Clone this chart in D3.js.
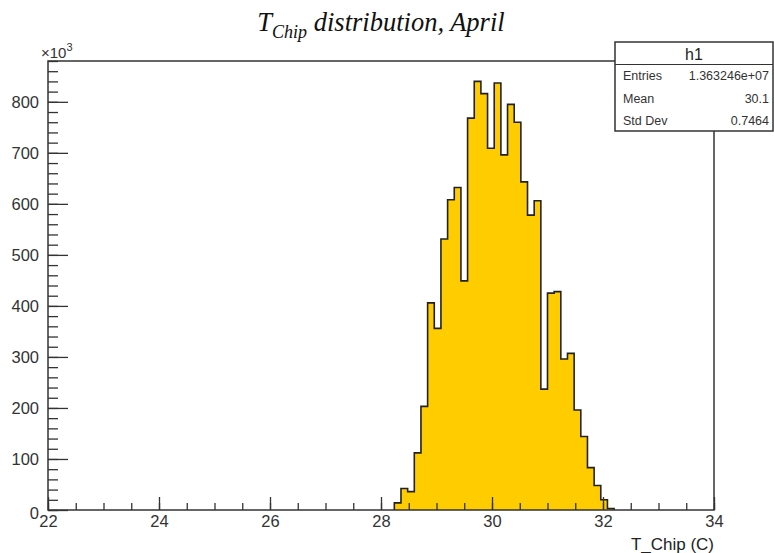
<!DOCTYPE html>
<html>
<head>
<meta charset="utf-8">
<script src="https://cdn.jsdelivr.net/npm/d3@7"></script>
<style>
  html, body { margin: 0; padding: 0; background: #fff; }
  svg { display: block; font-family: "Liberation Sans", Arial, sans-serif; }
</style>
</head>
<body>
<svg id="chart" width="774" height="553"></svg>
<script>
// ---- data ----
const histName = "h1";
const nBins = 100;
const xMin = 22, xMax = 34;
const firstFilledBin = 52;           // index of first non-empty bin
// bin contents in thousands (x10^3), bins 52..84
const counts = [14, 42, 36, 112, 203, 406, 356, 531, 608, 632, 449, 768, 840, 816,
                709, 837, 696, 795, 760, 643, 578, 606, 237, 425, 428, 296, 307,
                196, 144, 83, 48, 20, 3];
const xTickLabels = [22, 24, 26, 28, 30, 32, 34];
const yTickLabels = [0, 100, 200, 300, 400, 500, 600, 700, 800];
const statsLabels = ["Entries", "Mean", "Std Dev"];
const statsValues = ["1.363246e+07", "30.1", "0.7464"];
const yMax = 880;

// ---- layout ----
const svg = d3.select("#chart");
const frame = { left: 48, right: 714, top: 61, bottom: 510 };
const x = d3.scaleLinear().domain([xMin, xMax]).range([frame.left, frame.right]);
const y = d3.scaleLinear().domain([0, yMax]).range([frame.bottom, frame.top]);
const binW = (xMax - xMin) / nBins;
const sans = "'Liberation Sans', Arial, sans-serif";
const serif = "'Liberation Serif', 'Times New Roman', serif";

// histogram outline (step path)
const pts = [];
pts.push([xMin + firstFilledBin * binW, 0]);
counts.forEach((c, i) => {
  const lo = xMin + (firstFilledBin + i) * binW;
  pts.push([lo, c]);
  pts.push([lo + binW, c]);
});
pts.push([xMin + (firstFilledBin + counts.length) * binW, 0]);

const area = d3.area().x(d => x(d[0])).y0(y(0)).y1(d => y(d[1]));
const line = d3.line().x(d => x(d[0])).y(d => y(d[1]));

svg.append("path").attr("d", area(pts)).attr("fill", "#ffcc00").attr("stroke", "none");
svg.append("path").attr("d", line(pts)).attr("fill", "none")
  .attr("stroke", "#222").attr("stroke-width", 1.6).attr("stroke-linejoin", "miter");

// axes (ROOT style: ticks inward)
const yMinor = d3.range(0, yMax + 0.1, 20);
svg.append("g").attr("transform", `translate(${frame.left},0)`)
  .call(d3.axisLeft(y).tickValues(yMinor).tickSize(-10).tickFormat(""))
  .call(g => g.select(".domain").remove())
  .call(g => g.selectAll("line").attr("stroke", "#333").attr("stroke-width", 1.3));
svg.append("g").attr("transform", `translate(${frame.left},0)`)
  .call(d3.axisLeft(y).tickValues(yTickLabels).tickSize(-20).tickPadding(9).tickFormat(d3.format("d")))
  .call(g => g.select(".domain").remove())
  .call(g => g.selectAll("line").attr("stroke", "#333").attr("stroke-width", 1.3))
  .call(g => g.selectAll("text").attr("font-size", 16.5).attr("fill", "#333")
    .style("font-family", sans)
    .attr("dy", (d) => d === 0 ? "0.5em" : "0.35em"));

const xMinor = d3.range(xMin, xMax + 0.01, 0.5);
svg.append("g").attr("transform", `translate(0,${frame.bottom})`)
  .call(d3.axisBottom(x).tickValues(xMinor).tickSize(-7).tickFormat(""))
  .call(g => g.select(".domain").remove())
  .call(g => g.selectAll("line").attr("stroke", "#333").attr("stroke-width", 1.3));
svg.append("g").attr("transform", `translate(0,${frame.bottom})`)
  .call(d3.axisBottom(x).tickValues(xTickLabels).tickSize(-13).tickPadding(5).tickFormat(d3.format("d")))
  .call(g => g.select(".domain").remove())
  .call(g => g.selectAll("line").attr("stroke", "#333").attr("stroke-width", 1.3))
  .call(g => g.selectAll("text").attr("font-size", 16.5).attr("fill", "#333")
    .style("font-family", sans));

// frame
svg.append("rect")
  .attr("x", frame.left).attr("y", frame.top)
  .attr("width", frame.right - frame.left).attr("height", frame.bottom - frame.top)
  .attr("fill", "none").attr("stroke", "#333").attr("stroke-width", 1.5);

// x10^3
const exp = svg.append("text").attr("x", 41).attr("y", 58).attr("font-size", 15).attr("fill", "#333");
exp.append("tspan").text("\u00d710");
exp.append("tspan").attr("dy", -7).attr("font-size", 11).text("3");

// axis title
svg.append("text").attr("x", frame.right).attr("y", 550).attr("text-anchor", "end")
  .attr("font-size", 17).attr("fill", "#222").text("T_Chip (C)");

// title
const title = svg.append("text").attr("x", 381).attr("y", 31).attr("text-anchor", "middle")
  .style("font-family", serif)
  .attr("font-style", "italic").attr("font-size", 26.5).attr("fill", "#111");
title.append("tspan").text("T");
title.append("tspan").attr("dy", 7).attr("font-size", 18).text("Chip");
title.append("tspan").attr("dy", -7).text(" distribution, April");

// stats box
const box = { x: 615, y: 42, w: 158, h: 89 };
svg.append("rect").attr("x", box.x).attr("y", box.y).attr("width", box.w).attr("height", box.h)
  .attr("fill", "#fff").attr("stroke", "#333").attr("stroke-width", 1.5);
svg.append("line").attr("x1", box.x).attr("x2", box.x + box.w).attr("y1", 64.5).attr("y2", 64.5)
  .attr("stroke", "#333").attr("stroke-width", 1.2);
svg.append("text").attr("x", box.x + box.w / 2).attr("y", 60).attr("text-anchor", "middle")
  .attr("font-size", 16).attr("fill", "#222").text(histName);
statsLabels.forEach((lab, i) => {
  const yy = 80 + i * 22.5;
  svg.append("text").attr("x", 623).attr("y", yy).attr("font-size", 12.5).attr("fill", "#333").text(lab);
  svg.append("text").attr("x", 769).attr("y", yy).attr("text-anchor", "end")
    .attr("font-size", 12.5).attr("fill", "#333").text(statsValues[i]);
});
</script>
</body>
</html>
